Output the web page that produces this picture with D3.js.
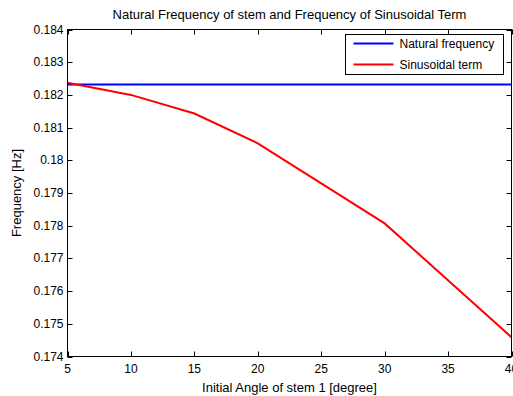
<!DOCTYPE html>
<html>
<head>
<meta charset="utf-8">
<script src="https://cdn.jsdelivr.net/npm/d3@7"></script>
<style>
  body { margin: 0; background: #fff; }
  svg { display: block; }
</style>
</head>
<body>
<div id="graphic"></div>
<script>
// values
const angles = [5, 10, 15, 20, 30, 40];
const sinusoidal = [0.18237, 0.18200, 0.18143, 0.18052, 0.17807, 0.17459];
const natural = [0.18232, 0.18232, 0.18232, 0.18232, 0.18232, 0.18232];
const xTicks = [5, 10, 15, 20, 25, 30, 35, 40];
const yTicks = [0.174, 0.175, 0.176, 0.177, 0.178, 0.179, 0.18, 0.181, 0.182, 0.183, 0.184];
const seriesNames = ['Natural frequency', 'Sinusoidal term'];
const colors = ['#0000ff', '#ff0000'];

const width = 513, height = 396;
const mLeft = 67.5, mRight = 511.5, mTop = 29.5, mBottom = 356.5;
const font = 'Liberation Sans, Arial, Helvetica, sans-serif';

const svg = d3.select('#graphic').append('svg')
  .attr('width', width)
  .attr('height', height)
  .attr('font-family', font)
  .attr('font-size', 12);

const x = d3.scaleLinear().domain([5, 40]).range([mLeft, mRight]);
const y = d3.scaleLinear().domain([0.174, 0.184]).range([mBottom, mTop]);

// data lines
const line = d3.line().x((d, i) => x(angles[i])).y(d => y(d));
const series = [natural, sinusoidal];
svg.append('g')
  .selectAll('path')
  .data(series)
  .join('path')
    .attr('fill', 'none')
    .attr('stroke', (d, i) => colors[i])
    .attr('stroke-width', 2)
    .attr('d', line);

// frame with inward ticks on all four sides
const tickLen = 5;
const ax = svg.append('g').attr('stroke', '#000').attr('stroke-width', 1);
ax.append('rect')
  .attr('x', mLeft).attr('y', mTop)
  .attr('width', mRight - mLeft).attr('height', mBottom - mTop)
  .attr('fill', 'none');

const xt = ax.selectAll('.xt').data(xTicks).join('g').attr('class', 'xt');
xt.append('line')
  .attr('x1', d => Math.round(x(d)) + 0.5).attr('x2', d => Math.round(x(d)) + 0.5)
  .attr('y1', mBottom).attr('y2', mBottom - tickLen);
xt.append('line')
  .attr('x1', d => Math.round(x(d)) + 0.5).attr('x2', d => Math.round(x(d)) + 0.5)
  .attr('y1', mTop).attr('y2', mTop + tickLen);

const yt = ax.selectAll('.yt').data(yTicks).join('g').attr('class', 'yt');
yt.append('line')
  .attr('y1', d => Math.round(y(d)) + 0.5).attr('y2', d => Math.round(y(d)) + 0.5)
  .attr('x1', mLeft).attr('x2', mLeft + tickLen);
yt.append('line')
  .attr('y1', d => Math.round(y(d)) + 0.5).attr('y2', d => Math.round(y(d)) + 0.5)
  .attr('x1', mRight).attr('x2', mRight - tickLen);

// tick labels
svg.append('g')
  .selectAll('text')
  .data(xTicks)
  .join('text')
    .attr('x', d => x(d))
    .attr('y', mBottom + 16)
    .attr('text-anchor', 'middle')
    .text(d => d);

svg.append('g')
  .selectAll('text')
  .data(yTicks)
  .join('text')
    .attr('x', mLeft - 4)
    .attr('y', d => y(d) + 4)
    .attr('text-anchor', 'end')
    .text(d => String(+d.toFixed(3)));

// titles
svg.append('text')
  .attr('x', (mLeft + mRight) / 2)
  .attr('y', 19)
  .attr('font-size', 13)
  .attr('text-anchor', 'middle')
  .text('Natural Frequency of stem and Frequency of Sinusoidal Term');

svg.append('text')
  .attr('x', (mLeft + mRight) / 2)
  .attr('y', 392)
  .attr('font-size', 13)
  .attr('text-anchor', 'middle')
  .text('Initial Angle of stem 1 [degree]');

svg.append('text')
  .attr('transform', `translate(21,${(mTop + mBottom) / 2}) rotate(-90)`)
  .attr('font-size', 13)
  .attr('text-anchor', 'middle')
  .text('Frequency [Hz]');

// legend
const legend = svg.append('g').attr('transform', 'translate(345.5,34.5)');
legend.append('rect')
  .attr('width', 158).attr('height', 40)
  .attr('fill', '#fff').attr('stroke', '#000');
const item = legend.selectAll('g')
  .data(seriesNames)
  .join('g')
    .attr('transform', (d, i) => `translate(0,${9 + i * 21})`);
item.append('line')
  .attr('x1', 8).attr('x2', 48)
  .attr('stroke', (d, i) => colors[i])
  .attr('stroke-width', 2);
item.append('text')
  .attr('x', 54)
  .attr('y', 4)
  .text(d => d);
</script>
</body>
</html>
